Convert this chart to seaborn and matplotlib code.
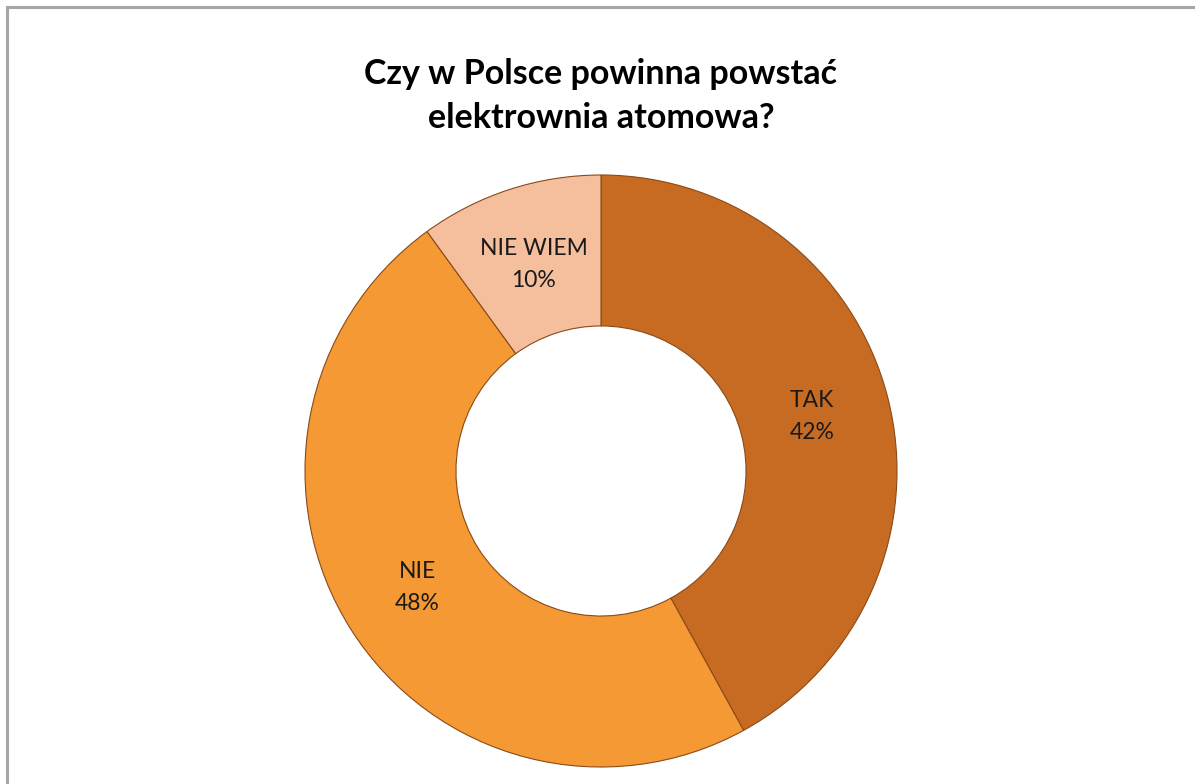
import matplotlib
matplotlib.use("Agg")
import matplotlib.pyplot as plt
from matplotlib.patches import Rectangle
import numpy as np
import seaborn as sns

# Data
categories = ["TAK", "NIE", "NIE WIEM"]
values = [42, 48, 10]
title_text = "Czy w Polsce powinna powstać\nelektrownia atomowa?"

colors = ["#C86B22", "#F59934", "#F5BE9C"]

sns.set_theme(style="white")
plt.rcParams["font.family"] = ["Lato", "DejaVu Sans"]

W, H = 1195, 784
fig = plt.figure(figsize=(W / 100, H / 100), dpi=100)
fig.patch.set_facecolor("white")

# outer frame (extends past right/bottom edges)
fig.patches.append(Rectangle((7 / W, -0.05), 1.2, 1 - 7 / H + 0.05,
                             transform=fig.transFigure, fill=False,
                             edgecolor="#A6A6A6", linewidth=2.2))

cx, cy, r = 601, 471, 296
ax = fig.add_axes([(cx - r) / W, (H - cy - r) / H, 2 * r / W, 2 * r / H])

wedges, _ = ax.pie(values, colors=colors, startangle=90, counterclock=False,
                   radius=1.0,
                   wedgeprops=dict(width=0.51, edgecolor="#8A4A18", linewidth=0.8))
ax.set_xlim(-1, 1)
ax.set_ylim(-1, 1)
ax.set_aspect("equal")
ax.axis("off")

total = sum(values)
start = 90.0
for cat, v in zip(categories, values):
    ang = start - v / total * 360 / 2
    start -= v / total * 360
    rr = 0.735
    x = rr * np.cos(np.deg2rad(ang))
    y = rr * np.sin(np.deg2rad(ang))
    ax.text(x, y, f"{cat}\n{v}%", ha="center", va="center",
            fontsize=16.5, color="#1a1a1a", linespacing=1.65)

fig.text(cx / W, 1 - 96 / H, title_text, ha="center", va="center",
         fontsize=24.5, fontweight="bold", color="black", linespacing=1.45)

fig.savefig("out.png", dpi=100)
